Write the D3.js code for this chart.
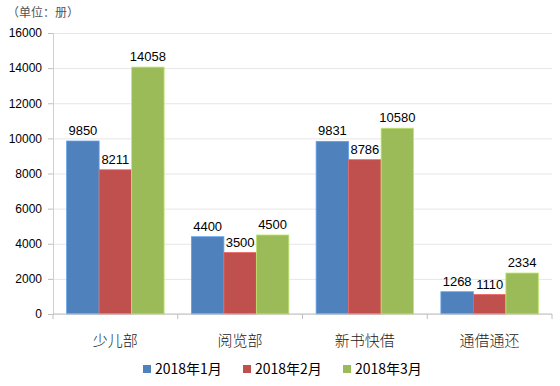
<!DOCTYPE html>
<html>
<head>
<meta charset="utf-8">
<script src="https://cdn.jsdelivr.net/npm/d3@7"></script>
<style>
  body { margin: 0; background: #fff; }
  text { font-family: Arial, "Liberation Sans", sans-serif; }
</style>
</head>
<body>
<div id="chart"></div>
<script>
var categories = ["少儿部", "阅览部", "新书快借", "通借通还"]
var seriesNames = ["2018年1月", "2018年2月", "2018年3月"]
var jan = [9850, 4400, 9831, 1268]
var feb = [8211, 3500, 8786, 1110]
var mar = [14058, 4500, 10580, 2334]
var yTicks = [0, 2000, 4000, 6000, 8000, 10000, 12000, 14000, 16000]
var colors = ["#4f81bd", "#c0504d", "#9bbb59"]

var width = 560, height = 386
var margin = { top: 33, right: 8, bottom: 72, left: 53 }

var svg = d3.select("#chart")
  .append("svg")
  .attr("width", width)
  .attr("height", height)

var series = [jan, feb, mar]

// X scales
var xScale = d3.scaleBand()
  .domain(categories)
  .range([margin.left, width - margin.right])
  .paddingInner(0)
  .paddingOuter(0)

var xInner = d3.scaleBand()
  .domain([0, 1, 2])
  .range([0, xScale.bandwidth()])
  .paddingOuter(0.42)
  .paddingInner(0)

// Y scale
var yScale = d3.scaleLinear()
  .domain([0, 16000])
  .range([height - margin.bottom, margin.top])

// grid
svg.append("g")
  .attr("transform", `translate(${margin.left},0)`)
  .call(d3.axisLeft(yScale).tickValues(yTicks).tickSize(-(width - margin.left - margin.right)).tickFormat(""))
  .call(g => g.select(".domain").remove())
  .selectAll("line")
  .attr("stroke", "#e6e6e6")

// y axis
svg.append("g")
  .attr("transform", `translate(${margin.left},0)`)
  .call(d3.axisLeft(yScale).tickValues(yTicks).tickSize(5).tickPadding(6).tickSizeOuter(0).tickFormat(d => d))
  .call(g => g.select(".domain").attr("stroke", "#d0d0d0"))
  .call(g => g.selectAll(".tick line").attr("stroke", "#bfbfbf"))
  .selectAll("text")
  .style("font-size", "12px")
  .attr("fill", "#000")

// bars
series.forEach(function(vals, i) {
  svg.append("g")
    .selectAll("rect")
    .data(vals)
    .enter()
    .append("rect")
    .attr("x", (d, j) => xScale(categories[j]) + xInner(i))
    .attr("y", d => yScale(d))
    .attr("width", xInner.bandwidth())
    .attr("height", d => yScale(0) - yScale(d))
    .attr("fill", colors[i])
    .attr("stroke", d3.color(colors[i]).brighter(0.6))
    .attr("stroke-width", 0.8)

  svg.append("g")
    .selectAll("text")
    .data(vals)
    .enter()
    .append("text")
    .attr("x", (d, j) => xScale(categories[j]) + xInner(i) + xInner.bandwidth() / 2)
    .attr("y", d => yScale(d) - 6)
    .attr("text-anchor", "middle")
    .style("font-family", "'Liberation Sans', Arial, sans-serif")
    .style("font-size", "13px")
    .attr("fill", "#000")
    .text(d => d)
})

// x axis
svg.append("g")
  .attr("transform", `translate(0,${yScale(0)})`)
  .call(d3.axisBottom(xScale).tickSize(0).tickFormat(""))
  .call(g => g.select(".domain").attr("stroke", "#bfbfbf").attr("d", `M${margin.left},0H${width - margin.right}`))

var xTickPos = categories.map(c => xScale(c)).concat([width - margin.right])
svg.append("g")
  .selectAll("line")
  .data(xTickPos)
  .enter()
  .append("line")
  .attr("x1", d => d).attr("x2", d => d)
  .attr("y1", yScale(0)).attr("y2", yScale(0) + 5)
  .attr("stroke", "#bfbfbf")

svg.append("g")
  .selectAll("text")
  .data(categories)
  .enter()
  .append("text")
  .attr("x", d => xScale(d) + xScale.bandwidth() / 2)
  .attr("y", yScale(0) + 32)
  .attr("text-anchor", "middle")
  .style("font-family", "'Noto Sans CJK SC', sans-serif")
  .style("font-size", "15px")
  .style("font-weight", "300")
  .attr("fill", "#222")
  .text(d => d)

// unit label
svg.append("text")
  .attr("x", 7)
  .attr("y", 17)
  .style("font-family", "'Noto Sans CJK SC', sans-serif")
  .style("font-size", "12px")
  .attr("fill", "#555")
  .text("（单位：册）")

// legend
var legendX = [143, 243, 343]
var legend = svg.append("g")
  .selectAll("g")
  .data(seriesNames)
  .enter()
  .append("g")
  .attr("transform", (d, i) => `translate(${legendX[i]},369)`)

legend.append("rect")
  .attr("x", 0).attr("y", -4)
  .attr("width", 8).attr("height", 8)
  .attr("fill", (d, i) => colors[i])

legend.append("text")
  .attr("x", 12)
  .attr("y", 5)
  .style("font-family", "'Noto Sans CJK SC', sans-serif")
  .style("font-size", "14px")
  .attr("fill", "#000")
  .text(d => d)
</script>
</body>
</html>
